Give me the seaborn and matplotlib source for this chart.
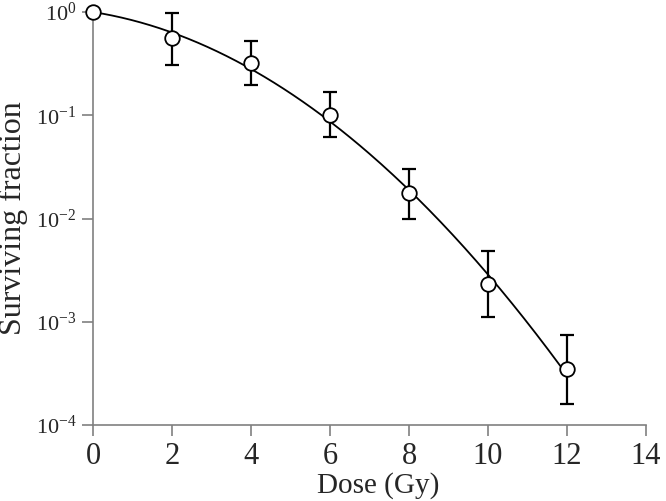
import numpy as np
import pandas as pd
import seaborn as sns
import matplotlib
matplotlib.use("Agg")
import matplotlib.pyplot as plt

# data
dose = [0, 2, 4, 6, 8, 10, 12]
surviving = [1.0, 0.56, 0.32, 0.10, 0.0175, 0.0023, 0.00035]
err_hi = [1.0, 0.98, 0.52, 0.167, 0.0305, 0.0048, 0.00075]
err_lo = [1.0, 0.31, 0.195, 0.061, 0.010, 0.0011, 0.00016]
xticks = [0, 2, 4, 6, 8, 10, 12, 14]
yticks = [1e-4, 1e-3, 1e-2, 1e-1, 1e0]
ytick_labels = ["$10^{-4}$", "$10^{-3}$", "$10^{-2}$", "$10^{-1}$", "$10^{0}$"]

# linear-quadratic fit of the points: ln S = -a*D - b*D^2
d = np.array(dose, dtype=float)
A = np.column_stack([-d, -d ** 2])
(a, b), *_ = np.linalg.lstsq(A, np.log(surviving), rcond=None)
fit = pd.DataFrame({"dose": np.linspace(0, 12, 200)})
fit["sf"] = np.exp(-a * fit["dose"] - b * fit["dose"] ** 2)

sns.set_style("ticks")
plt.rcParams["font.family"] = ["Liberation Serif", "DejaVu Serif"]
plt.rcParams["mathtext.fontset"] = "custom"
plt.rcParams["mathtext.rm"] = "Liberation Serif"
plt.rcParams["mathtext.it"] = "Liberation Serif:italic"

fig = plt.figure(figsize=(6.66, 5.01), dpi=100)
ax = fig.add_axes([0.1396, 0.1517, 0.8304, 0.8243])

sns.lineplot(data=fit, x="dose", y="sf", color="black", lw=1.3, ax=ax)
yerr = [np.array(surviving) - np.array(err_lo), np.array(err_hi) - np.array(surviving)]
ax.errorbar(dose, surviving, yerr=yerr, fmt="none", ecolor="black",
            elinewidth=1.6, capsize=5, capthick=1.6, clip_on=False, zorder=3)
sns.scatterplot(x=dose, y=surviving, s=110, facecolor="white", edgecolor="black",
                linewidth=1.3, ax=ax, zorder=4, clip_on=False)

ax.set_yscale("log")
ax.set_xlim(0, 14)
ax.set_ylim(1e-4, 1e0)
ax.set_xticks(xticks)
ax.set_xticklabels([str(t) for t in xticks], fontsize=22)
ax.set_yticks(yticks)
ax.set_yticklabels(ytick_labels, fontsize=16)
ax.yaxis.set_minor_locator(matplotlib.ticker.NullLocator())
ax.tick_params(axis="both", direction="out", length=8, width=1.2, color="#808080", pad=4)
for side in ["left", "bottom"]:
    ax.spines[side].set_color("#808080")
    ax.spines[side].set_linewidth(1.2)
sns.despine(ax=ax)

ax.set_xlabel("Dose (Gy)", fontsize=21)
ax.set_ylabel("Surviving fraction", fontsize=23)
ax.xaxis.set_label_coords(0.515, -0.115)
ax.yaxis.set_label_coords(-0.118, 0.5)

fig.savefig("out.png", dpi=100)
